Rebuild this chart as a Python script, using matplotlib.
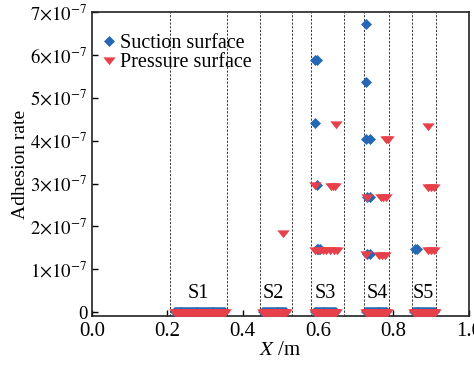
import matplotlib
matplotlib.use("Agg")
import matplotlib.pyplot as plt
from matplotlib.ticker import FuncFormatter

plt.rcParams['font.family'] = ['Liberation Serif', 'DejaVu Serif']
plt.rcParams['mathtext.fontset'] = 'stix'

# ---------------- data ----------------
# section boundaries (dashed lines), metres
section_bounds = [0.206, 0.358, 0.446, 0.532, 0.581, 0.668, 0.721, 0.789, 0.849, 0.912]
section_names = ["S1", "S2", "S3", "S4", "S5"]
section_label_x = [0.282, 0.482, 0.619, 0.756, 0.880]

# sampled positions where the adhesion rate is zero (both surfaces)
zero_x_s1 = [0.220, 0.2225, 0.225, 0.2275, 0.230, 0.2325, 0.235, 0.2375, 0.240, 0.2425,
             0.245, 0.2475, 0.250, 0.2525, 0.255, 0.2575, 0.260, 0.2625, 0.265, 0.2675,
             0.270, 0.2725, 0.275, 0.2775, 0.280, 0.2825, 0.285, 0.2875, 0.290, 0.2925,
             0.295, 0.2975, 0.300, 0.3025, 0.305, 0.3075, 0.310, 0.3125, 0.315, 0.3175,
             0.320, 0.3225, 0.325, 0.3275, 0.330, 0.3325, 0.335, 0.3375, 0.340, 0.3425,
             0.345, 0.3475, 0.350, 0.353]
zero_x_s2 = [0.455, 0.4575, 0.460, 0.4625, 0.465, 0.4675, 0.470, 0.4725, 0.475, 0.4775,
             0.480, 0.4825, 0.485, 0.4875, 0.490, 0.4925, 0.495, 0.4975, 0.500, 0.5025,
             0.505, 0.5075, 0.510, 0.5125, 0.515]
zero_x_s3 = [0.592, 0.5945, 0.597, 0.5995, 0.602, 0.6045, 0.607, 0.6095, 0.612, 0.6145,
             0.617, 0.6195, 0.622, 0.6245, 0.627, 0.6295, 0.632, 0.6345, 0.637, 0.6395,
             0.642, 0.6445, 0.648]
zero_x_s4 = [0.728, 0.7305, 0.733, 0.7355, 0.738, 0.7405, 0.743, 0.7455, 0.748, 0.7505,
             0.753, 0.7555, 0.758, 0.7605, 0.763, 0.7655, 0.768, 0.7705, 0.773, 0.7755,
             0.778, 0.780, 0.782]
zero_x_s5 = [0.854, 0.8565, 0.859, 0.8615, 0.864, 0.8665, 0.869, 0.8715, 0.874, 0.8765,
             0.879, 0.8815, 0.884, 0.8865, 0.889, 0.8915, 0.894, 0.8965, 0.899, 0.9015,
             0.904, 0.9065, 0.910]
zero_x = zero_x_s1 + zero_x_s2 + zero_x_s3 + zero_x_s4 + zero_x_s5

# non-zero points
suction_x = [0.591, 0.598, 0.728, 0.728, 0.592, 0.728, 0.737, 0.597,
             0.731, 0.738, 0.596, 0.601, 0.606, 0.731, 0.737, 0.857, 0.862]
suction_y = [5.88e-7, 5.88e-7, 6.72e-7, 5.38e-7, 4.42e-7, 4.04e-7, 4.04e-7, 2.96e-7,
             2.69e-7, 2.69e-7, 1.48e-7, 1.48e-7, 1.48e-7, 1.36e-7, 1.36e-7, 1.47e-7, 1.47e-7]

pressure_x = [0.647, 0.893, 0.780, 0.786, 0.592, 0.634, 0.640, 0.646,
              0.730, 0.767, 0.773, 0.780, 0.891, 0.899, 0.907, 0.508,
              0.592, 0.602, 0.612, 0.622, 0.632, 0.642, 0.650,
              0.728, 0.763, 0.770, 0.778, 0.891, 0.899, 0.907]
pressure_y = [4.39e-7, 4.34e-7, 4.03e-7, 4.03e-7, 2.96e-7, 2.94e-7, 2.94e-7, 2.94e-7,
              2.69e-7, 2.69e-7, 2.69e-7, 2.69e-7, 2.91e-7, 2.91e-7, 2.91e-7, 1.84e-7,
              1.45e-7, 1.45e-7, 1.45e-7, 1.45e-7, 1.45e-7, 1.45e-7, 1.45e-7,
              1.35e-7, 1.34e-7, 1.34e-7, 1.34e-7, 1.45e-7, 1.45e-7, 1.45e-7]

x_ticks = [0.0, 0.2, 0.4, 0.6, 0.8, 1.0]
y_ticks = [0, 1e-7, 2e-7, 3e-7, 4e-7, 5e-7, 6e-7, 7e-7]

blue = '#2367b5'
red = '#e8404a'

# flattened downward triangle (wider than tall)
tri_down = [(-1.0, 0.5), (1.0, 0.5), (0.0, -0.75), (-1.0, 0.5)]

# ---------------- figure ----------------
fig = plt.figure(figsize=(4.74, 3.65), dpi=100)
ax = fig.add_axes([0.194, 0.134, 0.795, 0.833])

for b in section_bounds:
    ax.axvline(b, color='#333333', lw=0.7, ls=(0, (2.2, 1.6)), zorder=1)

ax.plot(zero_x, [0] * len(zero_x), ls='none', marker='D', ms=4.6,
        color=blue, mew=0, clip_on=False, zorder=3)
ax.plot(zero_x, [0] * len(zero_x), ls='none', marker=tri_down, ms=9,
        color=red, mew=0, clip_on=False, zorder=4)

ax.plot(suction_x, suction_y, ls='none', marker='D', ms=4.6, color=blue, mec=blue,
        mew=0.5, zorder=3, label='Suction surface')
ax.plot(pressure_x, pressure_y, ls='none', marker=tri_down, ms=9, color=red, mew=0,
        zorder=4, label='Pressure surface')

for name, lx in zip(section_names, section_label_x):
    ax.text(lx, 0.44e-7, name, ha='center', va='center', fontsize=14.5)

ax.set_xlim(0, 1.0)
ax.set_ylim(-0.089e-7, 7e-7)
ax.set_xticks(x_ticks)
ax.set_yticks(y_ticks)
ax.xaxis.set_major_formatter(FuncFormatter(lambda v, p: f"{v:.1f}"))


def yfmt(v, p):
    n = int(round(v * 1e7))
    if n == 0:
        return "0"
    return r"$%d{\times}10^{-7}$" % n


ax.yaxis.set_major_formatter(FuncFormatter(yfmt))
ax.tick_params(direction='in', length=4, width=1.0, pad=3)
ax.tick_params(axis='x', labelsize=15, pad=4)
ax.tick_params(axis='y', labelsize=13.5)
for s in ax.spines.values():
    s.set_linewidth(1.2)
    s.set_color('#222222')

ax.set_xlabel(r"$X$ /m", fontsize=15, labelpad=0)
ax.set_ylabel("Adhesion rate", fontsize=14, labelpad=1)

leg = ax.legend(loc='upper left', bbox_to_anchor=(0.0, 0.965), frameon=False,
                fontsize=14.5, handlelength=0.6, handletextpad=0.25,
                labelspacing=0.0, borderaxespad=0.25, borderpad=0.3)

fig.savefig("out.png", dpi=100)
